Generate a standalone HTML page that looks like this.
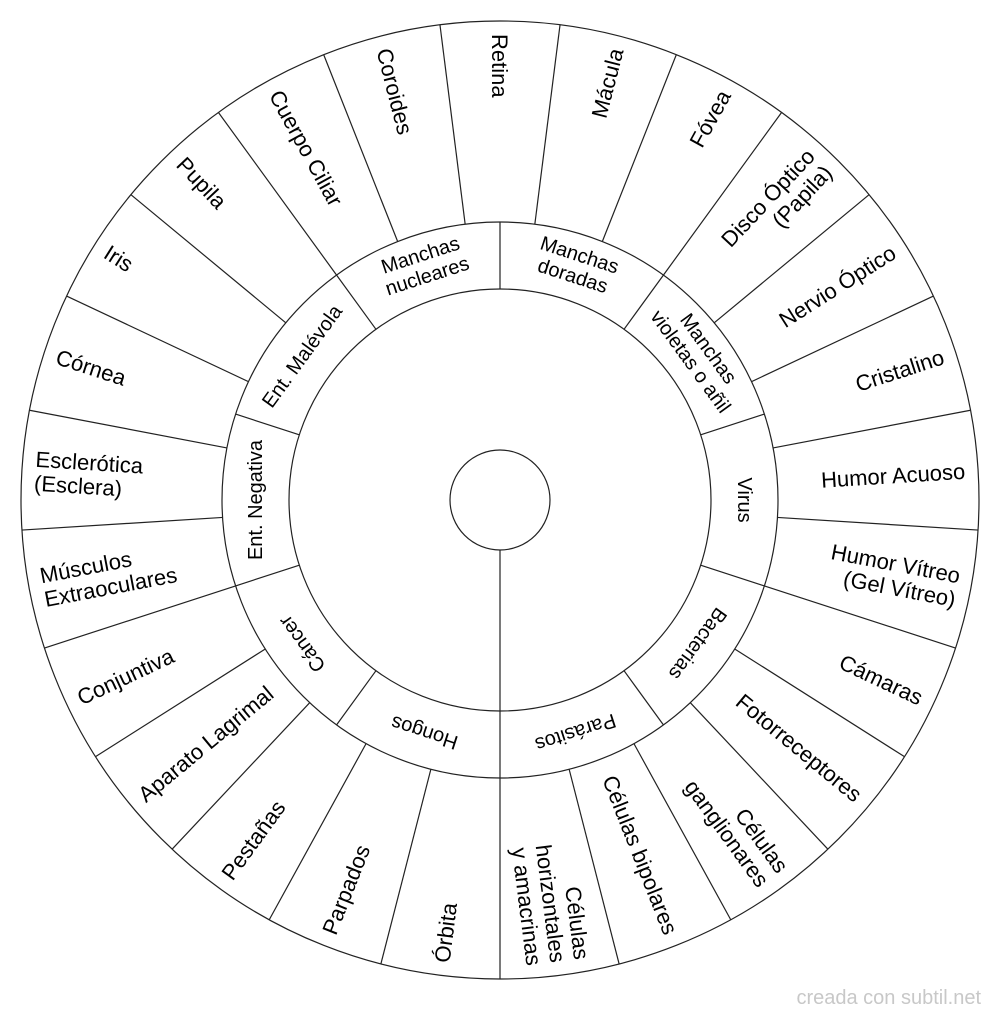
<!DOCTYPE html>
<html><head><meta charset="utf-8"><style>
html,body{margin:0;padding:0;background:#fff;}
svg{display:block;}
text{font-family:"Liberation Sans",sans-serif;fill:#000;}
</style></head><body>
<svg width="1000" height="1019" viewBox="0 0 1000 1019" xmlns="http://www.w3.org/2000/svg">
<g fill="none" stroke="#222" stroke-width="1.2">
<circle cx="500" cy="500" r="479"/>
<circle cx="500" cy="500" r="278"/>
<circle cx="500" cy="500" r="211"/>
<circle cx="500" cy="500" r="50"/>
<line x1="500" y1="550" x2="500" y2="979"/>
<line x1="500" y1="222" x2="500" y2="21" transform="rotate(7.2 500 500)"/>
<line x1="500" y1="222" x2="500" y2="21" transform="rotate(21.6 500 500)"/>
<line x1="500" y1="222" x2="500" y2="21" transform="rotate(36 500 500)"/>
<line x1="500" y1="222" x2="500" y2="21" transform="rotate(50.4 500 500)"/>
<line x1="500" y1="222" x2="500" y2="21" transform="rotate(64.8 500 500)"/>
<line x1="500" y1="222" x2="500" y2="21" transform="rotate(79.2 500 500)"/>
<line x1="500" y1="222" x2="500" y2="21" transform="rotate(93.6 500 500)"/>
<line x1="500" y1="222" x2="500" y2="21" transform="rotate(108 500 500)"/>
<line x1="500" y1="222" x2="500" y2="21" transform="rotate(122.4 500 500)"/>
<line x1="500" y1="222" x2="500" y2="21" transform="rotate(136.8 500 500)"/>
<line x1="500" y1="222" x2="500" y2="21" transform="rotate(151.2 500 500)"/>
<line x1="500" y1="222" x2="500" y2="21" transform="rotate(165.6 500 500)"/>
<line x1="500" y1="222" x2="500" y2="21" transform="rotate(194.4 500 500)"/>
<line x1="500" y1="222" x2="500" y2="21" transform="rotate(208.8 500 500)"/>
<line x1="500" y1="222" x2="500" y2="21" transform="rotate(223.2 500 500)"/>
<line x1="500" y1="222" x2="500" y2="21" transform="rotate(237.6 500 500)"/>
<line x1="500" y1="222" x2="500" y2="21" transform="rotate(252 500 500)"/>
<line x1="500" y1="222" x2="500" y2="21" transform="rotate(266.4 500 500)"/>
<line x1="500" y1="222" x2="500" y2="21" transform="rotate(280.8 500 500)"/>
<line x1="500" y1="222" x2="500" y2="21" transform="rotate(295.2 500 500)"/>
<line x1="500" y1="222" x2="500" y2="21" transform="rotate(309.6 500 500)"/>
<line x1="500" y1="222" x2="500" y2="21" transform="rotate(324 500 500)"/>
<line x1="500" y1="222" x2="500" y2="21" transform="rotate(338.4 500 500)"/>
<line x1="500" y1="222" x2="500" y2="21" transform="rotate(352.8 500 500)"/>
<line x1="500" y1="289" x2="500" y2="222"/>
<line x1="500" y1="289" x2="500" y2="222" transform="rotate(36 500 500)"/>
<line x1="500" y1="289" x2="500" y2="222" transform="rotate(72 500 500)"/>
<line x1="500" y1="289" x2="500" y2="222" transform="rotate(108 500 500)"/>
<line x1="500" y1="289" x2="500" y2="222" transform="rotate(144 500 500)"/>
<line x1="500" y1="289" x2="500" y2="222" transform="rotate(216 500 500)"/>
<line x1="500" y1="289" x2="500" y2="222" transform="rotate(252 500 500)"/>
<line x1="500" y1="289" x2="500" y2="222" transform="rotate(288 500 500)"/>
<line x1="500" y1="289" x2="500" y2="222" transform="rotate(324 500 500)"/>
</g>

<g font-size="22" text-anchor="end">
<text transform="rotate(-75.6 500 500)" x="966" y="508">Mácula</text>
<text transform="rotate(-61.2 500 500)" x="966" y="508">Fóvea</text>
<text transform="rotate(-46.8 500 500)" x="966" y="496">Disco Óptico<tspan x="966" dy="24">(Papila)</tspan></text>
<text transform="rotate(-32.4 500 500)" x="966" y="508">Nervio Óptico</text>
<text transform="rotate(-18 500 500)" x="966" y="508">Cristalino</text>
<text transform="rotate(-3.6 500 500)" x="966" y="508">Humor Acuoso</text>
<text transform="rotate(10.8 500 500)" x="966" y="496">Humor Vítreo<tspan x="966" dy="24">(Gel Vítreo)</tspan></text>
<text transform="rotate(25.2 500 500)" x="966" y="508">Cámaras</text>
<text transform="rotate(39.6 500 500)" x="966" y="508">Fotorreceptores</text>
<text transform="rotate(54 500 500)" x="966" y="496">Células<tspan x="966" dy="24">ganglionares</tspan></text>
<text transform="rotate(68.4 500 500)" x="966" y="508">Células bipolares</text>
<text transform="rotate(82.8 500 500)" x="966" y="484">Células<tspan x="966" dy="24">horizontales</tspan><tspan x="966" dy="24">y amacrinas</tspan></text>
</g>
<g font-size="22" text-anchor="start">
<text transform="rotate(-82.8 500 500)" x="34" y="508">Órbita</text>
<text transform="rotate(-68.4 500 500)" x="34" y="508">Parpados</text>
<text transform="rotate(-54 500 500)" x="34" y="508">Pestañas</text>
<text transform="rotate(-39.6 500 500)" x="34" y="508">Aparato Lagrimal</text>
<text transform="rotate(-25.2 500 500)" x="34" y="508">Conjuntiva</text>
<text transform="rotate(-10.8 500 500)" x="34" y="496">Músculos<tspan x="34" dy="24">Extraoculares</tspan></text>
<text transform="rotate(3.6 500 500)" x="34" y="496">Esclerótica<tspan x="34" dy="24">(Esclera)</tspan></text>
<text transform="rotate(18 500 500)" x="34" y="508">Córnea</text>
<text transform="rotate(32.4 500 500)" x="34" y="508">Iris</text>
<text transform="rotate(46.8 500 500)" x="34" y="508">Pupila</text>
<text transform="rotate(61.2 500 500)" x="34" y="508">Cuerpo Ciliar</text>
<text transform="rotate(75.6 500 500)" x="34" y="508">Coroides</text>
<text transform="rotate(90 500 500)" x="34" y="508">Retina</text>
</g>

<g font-size="20" text-anchor="middle">
<text transform="rotate(18 500 500)" x="500" y="249">Manchas<tspan x="500" dy="22">doradas</tspan></text>
<text transform="rotate(54 500 500)" x="500" y="249">Manchas<tspan x="500" dy="22">violetas o añil</tspan></text>
<text transform="rotate(90 500 500)" x="500" y="262">Virus</text>
<text transform="rotate(126 500 500)" x="500" y="262">Bacterias</text>
<text transform="rotate(162 500 500)" x="500" y="262">Parásitos</text>
<text transform="rotate(198 500 500)" x="500" y="262">Hongos</text>
<text transform="rotate(234 500 500)" x="500" y="262">Cáncer</text>
<text transform="rotate(270 500 500)" x="500" y="262">Ent. Negativa</text>
<text transform="rotate(306 500 500)" x="500" y="262">Ent. Malévola</text>
<text transform="rotate(342 500 500)" x="500" y="249">Manchas<tspan x="500" dy="22">nucleares</tspan></text>
</g>

<text x="981" y="1004" font-size="20" text-anchor="end" style="fill:#c8c8c8">creada con subtil.net</text>
</svg>
</body></html>
